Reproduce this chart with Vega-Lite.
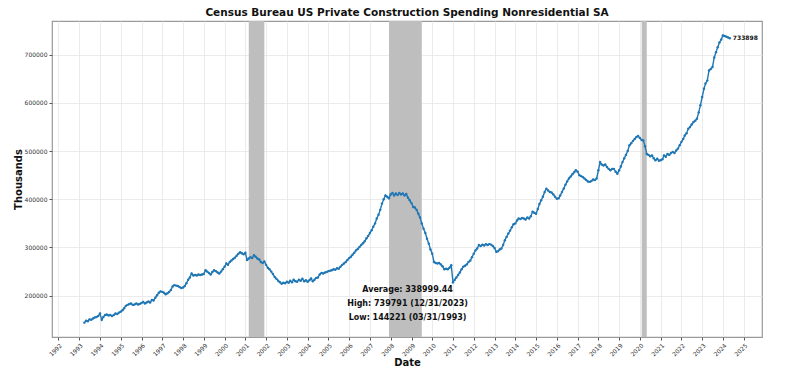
{
"$schema":"https://vega.github.io/schema/vega-lite/v6.json",
"width":710,"height":316,
"autosize":{"type":"none"},
"padding":{"left":52,"top":21,"right":38,"bottom":39},
"background":"white",
"config":{"view":{"stroke":"#9a9a9a","strokeWidth":1.2},"font":"DejaVu Sans"},
"title":{"text":"Census Bureau US Private Construction Spending Nonresidential SA","fontSize":10.5,"fontWeight":"bold","font":"DejaVu Sans","color":"#111111","anchor":"middle","offset":3},
"datasets":{
"rec":[{"s":"2001-03-01","e":"2001-11-30"},{"s":"2007-12-01","e":"2009-06-30"},{"s":"2020-02-01","e":"2020-04-30"}],
"stats":[{"t":"2008-10-23","v":211800,"label":"Average: 338999.44"},{"t":"2008-10-23","v":182200,"label":"High: 739791 (12/31/2023)"},{"t":"2008-10-23","v":154500,"label":"Low: 144221 (03/31/1993)"}],
"last":[{"t":"2024-04-30","v":733898,"label":"733898"}],
"s":[
{"t":"1993-03-31","v":144221},{"t":"1993-04-30","v":148000},{"t":"1993-05-31","v":147000},{"t":"1993-06-30","v":151000},{"t":"1993-07-31","v":150000},{"t":"1993-08-31","v":153000},{"t":"1993-09-30","v":155000},{"t":"1993-10-31","v":156000},{"t":"1993-11-30","v":158000},{"t":"1993-12-31","v":163000},
{"t":"1994-01-31","v":150000},{"t":"1994-02-28","v":156000},{"t":"1994-03-31","v":160000},{"t":"1994-04-30","v":161000},{"t":"1994-05-31","v":159000},{"t":"1994-06-30","v":160000},{"t":"1994-07-31","v":158000},{"t":"1994-08-31","v":160000},{"t":"1994-09-30","v":163000},{"t":"1994-10-31","v":162000},{"t":"1994-11-30","v":165000},{"t":"1994-12-31","v":167000},
{"t":"1995-01-31","v":170000},{"t":"1995-02-28","v":174000},{"t":"1995-03-31","v":179000},{"t":"1995-04-30","v":181000},{"t":"1995-05-31","v":183000},{"t":"1995-06-30","v":184000},{"t":"1995-07-31","v":181000},{"t":"1995-08-31","v":182000},{"t":"1995-09-30","v":184000},{"t":"1995-10-31","v":182000},{"t":"1995-11-30","v":183000},{"t":"1995-12-31","v":185000},
{"t":"1996-01-31","v":187000},{"t":"1996-02-29","v":184000},{"t":"1996-03-31","v":186000},{"t":"1996-04-30","v":188000},{"t":"1996-05-31","v":186000},{"t":"1996-06-30","v":191000},{"t":"1996-07-31","v":190000},{"t":"1996-08-31","v":196000},{"t":"1996-09-30","v":201000},{"t":"1996-10-31","v":206000},{"t":"1996-11-30","v":209000},{"t":"1996-12-31","v":208000},
{"t":"1997-01-31","v":206000},{"t":"1997-02-28","v":203000},{"t":"1997-03-31","v":205000},{"t":"1997-04-30","v":208000},{"t":"1997-05-31","v":212000},{"t":"1997-06-30","v":219000},{"t":"1997-07-31","v":222000},{"t":"1997-08-31","v":221000},{"t":"1997-09-30","v":220000},{"t":"1997-10-31","v":218000},{"t":"1997-11-30","v":216000},{"t":"1997-12-31","v":217000},
{"t":"1998-01-31","v":220000},{"t":"1998-02-28","v":226000},{"t":"1998-03-31","v":233000},{"t":"1998-04-30","v":238000},{"t":"1998-05-31","v":246000},{"t":"1998-06-30","v":242000},{"t":"1998-07-31","v":243000},{"t":"1998-08-31","v":242000},{"t":"1998-09-30","v":244000},{"t":"1998-10-31","v":243000},{"t":"1998-11-30","v":244000},{"t":"1998-12-31","v":245000},
{"t":"1999-01-31","v":253000},{"t":"1999-02-28","v":250000},{"t":"1999-03-31","v":247000},{"t":"1999-04-30","v":244000},{"t":"1999-05-31","v":249000},{"t":"1999-06-30","v":253000},{"t":"1999-07-31","v":251000},{"t":"1999-08-31","v":248000},{"t":"1999-09-30","v":246000},{"t":"1999-10-31","v":250000},{"t":"1999-11-30","v":255000},{"t":"1999-12-31","v":260000},
{"t":"2000-01-31","v":267000},{"t":"2000-02-29","v":264000},{"t":"2000-03-31","v":270000},{"t":"2000-04-30","v":273000},{"t":"2000-05-31","v":276000},{"t":"2000-06-30","v":279000},{"t":"2000-07-31","v":283000},{"t":"2000-08-31","v":287000},{"t":"2000-09-30","v":290000},{"t":"2000-10-31","v":288000},{"t":"2000-11-30","v":286000},{"t":"2000-12-31","v":289000},
{"t":"2001-01-31","v":274000},{"t":"2001-02-28","v":277000},{"t":"2001-03-31","v":280000},{"t":"2001-04-30","v":278000},{"t":"2001-05-31","v":284000},{"t":"2001-06-30","v":281000},{"t":"2001-07-31","v":277000},{"t":"2001-08-31","v":275000},{"t":"2001-09-30","v":270000},{"t":"2001-10-31","v":268000},{"t":"2001-11-30","v":271000},{"t":"2001-12-31","v":264000},
{"t":"2002-01-31","v":258000},{"t":"2002-02-28","v":255000},{"t":"2002-03-31","v":250000},{"t":"2002-04-30","v":245000},{"t":"2002-05-31","v":239000},{"t":"2002-06-30","v":235000},{"t":"2002-07-31","v":231000},{"t":"2002-08-31","v":228000},{"t":"2002-09-30","v":225000},{"t":"2002-10-31","v":227000},{"t":"2002-11-30","v":226000},{"t":"2002-12-31","v":229000},
{"t":"2003-01-31","v":227000},{"t":"2003-02-28","v":231000},{"t":"2003-03-31","v":228000},{"t":"2003-04-30","v":233000},{"t":"2003-05-31","v":230000},{"t":"2003-06-30","v":229000},{"t":"2003-07-31","v":233000},{"t":"2003-08-31","v":231000},{"t":"2003-09-30","v":235000},{"t":"2003-10-31","v":230000},{"t":"2003-11-30","v":232000},{"t":"2003-12-31","v":229000},
{"t":"2004-01-31","v":232000},{"t":"2004-02-29","v":236000},{"t":"2004-03-31","v":230000},{"t":"2004-04-30","v":233000},{"t":"2004-05-31","v":237000},{"t":"2004-06-30","v":238000},{"t":"2004-07-31","v":244000},{"t":"2004-08-31","v":247000},{"t":"2004-09-30","v":246000},{"t":"2004-10-31","v":248000},{"t":"2004-11-30","v":249000},{"t":"2004-12-31","v":251000},
{"t":"2005-01-31","v":252000},{"t":"2005-02-28","v":253000},{"t":"2005-03-31","v":255000},{"t":"2005-04-30","v":254000},{"t":"2005-05-31","v":257000},{"t":"2005-06-30","v":256000},{"t":"2005-07-31","v":260000},{"t":"2005-08-31","v":264000},{"t":"2005-09-30","v":267000},{"t":"2005-10-31","v":270000},{"t":"2005-11-30","v":274000},{"t":"2005-12-31","v":278000},
{"t":"2006-01-31","v":281000},{"t":"2006-02-28","v":285000},{"t":"2006-03-31","v":289000},{"t":"2006-04-30","v":294000},{"t":"2006-05-31","v":297000},{"t":"2006-06-30","v":301000},{"t":"2006-07-31","v":305000},{"t":"2006-08-31","v":309000},{"t":"2006-09-30","v":313000},{"t":"2006-10-31","v":319000},{"t":"2006-11-30","v":324000},{"t":"2006-12-31","v":330000},
{"t":"2007-01-31","v":336000},{"t":"2007-02-28","v":343000},{"t":"2007-03-31","v":350000},{"t":"2007-04-30","v":360000},{"t":"2007-05-31","v":368000},{"t":"2007-06-30","v":378000},{"t":"2007-07-31","v":391000},{"t":"2007-08-31","v":400000},{"t":"2007-09-30","v":408000},{"t":"2007-10-31","v":405000},{"t":"2007-11-30","v":402000},{"t":"2007-12-31","v":410000},
{"t":"2008-01-31","v":413000},{"t":"2008-02-29","v":408000},{"t":"2008-03-31","v":412000},{"t":"2008-04-30","v":409000},{"t":"2008-05-31","v":413000},{"t":"2008-06-30","v":410000},{"t":"2008-07-31","v":412000},{"t":"2008-08-31","v":408000},{"t":"2008-09-30","v":411000},{"t":"2008-10-31","v":403000},{"t":"2008-11-30","v":398000},{"t":"2008-12-31","v":392000},
{"t":"2009-01-31","v":384000},{"t":"2009-02-28","v":383000},{"t":"2009-03-31","v":378000},{"t":"2009-04-30","v":370000},{"t":"2009-05-31","v":362000},{"t":"2009-06-30","v":350000},{"t":"2009-07-31","v":339000},{"t":"2009-08-31","v":330000},{"t":"2009-09-30","v":318000},{"t":"2009-10-31","v":308000},{"t":"2009-11-30","v":296000},{"t":"2009-12-31","v":287000},
{"t":"2010-01-31","v":270000},{"t":"2010-02-28","v":268000},{"t":"2010-03-31","v":267000},{"t":"2010-04-30","v":268000},{"t":"2010-05-31","v":265000},{"t":"2010-06-30","v":261000},{"t":"2010-07-31","v":255000},{"t":"2010-08-31","v":256000},{"t":"2010-09-30","v":255000},{"t":"2010-10-31","v":258000},{"t":"2010-11-30","v":263000},{"t":"2010-12-31","v":228000},
{"t":"2011-01-31","v":233000},{"t":"2011-02-28","v":238000},{"t":"2011-03-31","v":243000},{"t":"2011-04-30","v":248000},{"t":"2011-05-31","v":255000},{"t":"2011-06-30","v":260000},{"t":"2011-07-31","v":262000},{"t":"2011-08-31","v":265000},{"t":"2011-09-30","v":270000},{"t":"2011-10-31","v":273000},{"t":"2011-11-30","v":280000},{"t":"2011-12-31","v":287000},
{"t":"2012-01-31","v":294000},{"t":"2012-02-29","v":298000},{"t":"2012-03-31","v":305000},{"t":"2012-04-30","v":303000},{"t":"2012-05-31","v":306000},{"t":"2012-06-30","v":304000},{"t":"2012-07-31","v":307000},{"t":"2012-08-31","v":305000},{"t":"2012-09-30","v":307000},{"t":"2012-10-31","v":306000},{"t":"2012-11-30","v":303000},{"t":"2012-12-31","v":299000},
{"t":"2013-01-31","v":291000},{"t":"2013-02-28","v":292000},{"t":"2013-03-31","v":296000},{"t":"2013-04-30","v":298000},{"t":"2013-05-31","v":305000},{"t":"2013-06-30","v":315000},{"t":"2013-07-31","v":322000},{"t":"2013-08-31","v":329000},{"t":"2013-09-30","v":335000},{"t":"2013-10-31","v":342000},{"t":"2013-11-30","v":348000},{"t":"2013-12-31","v":350000},
{"t":"2014-01-31","v":356000},{"t":"2014-02-28","v":360000},{"t":"2014-03-31","v":359000},{"t":"2014-04-30","v":361000},{"t":"2014-05-31","v":360000},{"t":"2014-06-30","v":358000},{"t":"2014-07-31","v":362000},{"t":"2014-08-31","v":360000},{"t":"2014-09-30","v":365000},{"t":"2014-10-31","v":374000},{"t":"2014-11-30","v":372000},{"t":"2014-12-31","v":370000},
{"t":"2015-01-31","v":380000},{"t":"2015-02-28","v":390000},{"t":"2015-03-31","v":398000},{"t":"2015-04-30","v":405000},{"t":"2015-05-31","v":415000},{"t":"2015-06-30","v":422000},{"t":"2015-07-31","v":418000},{"t":"2015-08-31","v":415000},{"t":"2015-09-30","v":414000},{"t":"2015-10-31","v":410000},{"t":"2015-11-30","v":405000},{"t":"2015-12-31","v":401000},
{"t":"2016-01-31","v":402000},{"t":"2016-02-29","v":408000},{"t":"2016-03-31","v":415000},{"t":"2016-04-30","v":422000},{"t":"2016-05-31","v":430000},{"t":"2016-06-30","v":437000},{"t":"2016-07-31","v":443000},{"t":"2016-08-31","v":447000},{"t":"2016-09-30","v":452000},{"t":"2016-10-31","v":456000},{"t":"2016-11-30","v":460000},{"t":"2016-12-31","v":457000},
{"t":"2017-01-31","v":450000},{"t":"2017-02-28","v":448000},{"t":"2017-03-31","v":446000},{"t":"2017-04-30","v":443000},{"t":"2017-05-31","v":440000},{"t":"2017-06-30","v":437000},{"t":"2017-07-31","v":436000},{"t":"2017-08-31","v":438000},{"t":"2017-09-30","v":441000},{"t":"2017-10-31","v":440000},{"t":"2017-11-30","v":443000},{"t":"2017-12-31","v":460000},
{"t":"2018-01-31","v":477000},{"t":"2018-02-28","v":472000},{"t":"2018-03-31","v":470000},{"t":"2018-04-30","v":472000},{"t":"2018-05-31","v":467000},{"t":"2018-06-30","v":463000},{"t":"2018-07-31","v":460000},{"t":"2018-08-31","v":463000},{"t":"2018-09-30","v":463000},{"t":"2018-10-31","v":457000},{"t":"2018-11-30","v":453000},{"t":"2018-12-31","v":460000},
{"t":"2019-01-31","v":468000},{"t":"2019-02-28","v":477000},{"t":"2019-03-31","v":485000},{"t":"2019-04-30","v":492000},{"t":"2019-05-31","v":500000},{"t":"2019-06-30","v":512000},{"t":"2019-07-31","v":516000},{"t":"2019-08-31","v":521000},{"t":"2019-09-30","v":525000},{"t":"2019-10-31","v":529000},{"t":"2019-11-30","v":531000},{"t":"2019-12-31","v":527000},
{"t":"2020-01-31","v":523000},{"t":"2020-02-29","v":522000},{"t":"2020-03-31","v":510000},{"t":"2020-04-30","v":494000},{"t":"2020-05-31","v":492000},{"t":"2020-06-30","v":489000},{"t":"2020-07-31","v":491000},{"t":"2020-08-31","v":485000},{"t":"2020-09-30","v":481000},{"t":"2020-10-31","v":484000},{"t":"2020-11-30","v":480000},{"t":"2020-12-31","v":481000},
{"t":"2021-01-31","v":483000},{"t":"2021-02-28","v":491000},{"t":"2021-03-31","v":488000},{"t":"2021-04-30","v":494000},{"t":"2021-05-31","v":492000},{"t":"2021-06-30","v":496000},{"t":"2021-07-31","v":498000},{"t":"2021-08-31","v":496000},{"t":"2021-09-30","v":501000},{"t":"2021-10-31","v":505000},{"t":"2021-11-30","v":512000},{"t":"2021-12-31","v":519000},
{"t":"2022-01-31","v":525000},{"t":"2022-02-28","v":532000},{"t":"2022-03-31","v":537000},{"t":"2022-04-30","v":546000},{"t":"2022-05-31","v":550000},{"t":"2022-06-30","v":555000},{"t":"2022-07-31","v":560000},{"t":"2022-08-31","v":563000},{"t":"2022-09-30","v":567000},{"t":"2022-10-31","v":580000},{"t":"2022-11-30","v":595000},{"t":"2022-12-31","v":612000},
{"t":"2023-01-31","v":629000},{"t":"2023-02-28","v":640000},{"t":"2023-03-31","v":646000},{"t":"2023-04-30","v":667000},{"t":"2023-05-31","v":670000},{"t":"2023-06-30","v":674000},{"t":"2023-07-31","v":694000},{"t":"2023-08-31","v":705000},{"t":"2023-09-30","v":715000},{"t":"2023-10-31","v":725000},{"t":"2023-11-30","v":731000},{"t":"2023-12-31","v":739791},
{"t":"2024-01-31","v":738500},{"t":"2024-02-29","v":737000},{"t":"2024-03-31","v":735500},{"t":"2024-04-30","v":733898}
]},
"layer":[
{"data":{"name":"rec"},"mark":{"type":"rect","color":"#bebebe"},
 "encoding":{
  "x":{"field":"s","type":"temporal",
   "scale":{"type":"utc","domain":[{"year":1991,"month":9,"date":9,"utc":true},{"year":2025,"month":11,"date":17,"utc":true}]},
   "axis":{"title":"Date","format":"%Y","tickCount":{"interval":"year","step":1},"labelAngle":-45,"labelFontSize":6,"labelColor":"#333333","labelPadding":2,"tickColor":"#555555","tickSize":3,"domain":false,"grid":true,"gridColor":"#e6e6e6","gridWidth":0.8,"labelOverlap":false,"labelFlush":false,"titleFontSize":10,"titleFontWeight":"bold","titleColor":"#111111","titlePadding":0}},
  "x2":{"field":"e"}}},
{"data":{"name":"s"},"mark":{"type":"line","color":"#1f77b4","strokeWidth":1.4,"point":{"filled":true,"size":6,"color":"#1f77b4"}},
 "encoding":{
  "x":{"field":"t","type":"temporal"},
  "y":{"field":"v","type":"quantitative",
   "scale":{"domain":[114443,769569],"nice":false,"zero":false},
   "axis":{"title":"Thousands","values":[200000,300000,400000,500000,600000,700000],"format":"d","labelFontSize":6,"labelColor":"#333333","labelPadding":2,"tickColor":"#555555","tickSize":3,"domain":false,"grid":true,"gridColor":"#e6e6e6","gridWidth":0.8,"titleFontSize":10,"titleFontWeight":"bold","titleColor":"#111111","titlePadding":1}}}},
{"data":{"name":"last"},"mark":{"type":"text","align":"left","baseline":"middle","dx":3,"fontSize":6,"fontWeight":"bold","color":"#111111"},
 "encoding":{"x":{"field":"t","type":"temporal"},"y":{"field":"v","type":"quantitative"},"text":{"field":"label"}}},
{"data":{"name":"stats"},"mark":{"type":"text","align":"center","baseline":"middle","fontSize":8,"fontWeight":"bold","color":"#111111"},
 "encoding":{"x":{"field":"t","type":"temporal"},"y":{"field":"v","type":"quantitative"},"text":{"field":"label"}}}
]
}
